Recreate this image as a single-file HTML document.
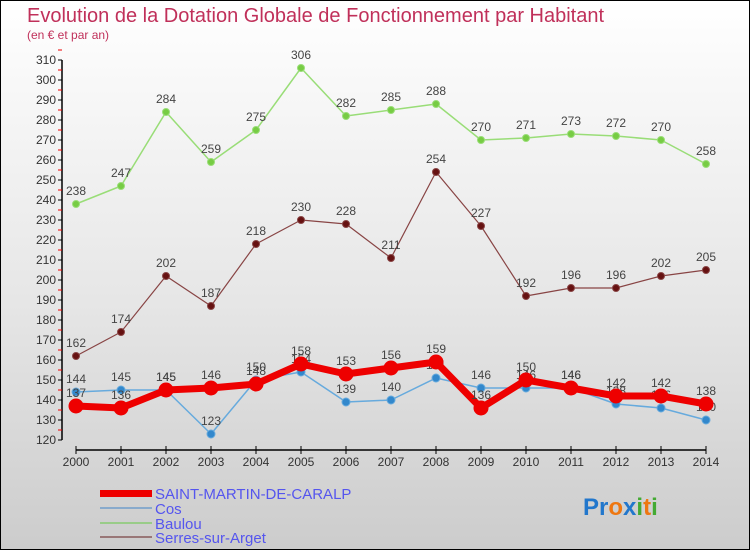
<!DOCTYPE html>
<html><head><meta charset="utf-8"><style>
html,body{margin:0;padding:0}
body{width:750px;height:550px;overflow:hidden;font-family:"Liberation Sans",sans-serif}
</style></head><body>
<svg id="c" width="750" height="550" xmlns="http://www.w3.org/2000/svg">
<defs><linearGradient id="bg" x1="0" y1="0" x2="0" y2="1"><stop offset="0" stop-color="#ffffff"/><stop offset="0.55" stop-color="#e6e6e6"/><stop offset="1" stop-color="#cccccc"/></linearGradient></defs>
<rect x="0" y="0" width="750" height="550" fill="url(#bg)"/>
<rect x="0.5" y="0.5" width="749" height="549" fill="none" stroke="#000"/>
<text x="27" y="22" font-size="20" fill="#c0305a">Evolution de la Dotation Globale de Fonctionnement par Habitant</text>
<text x="27" y="39" font-size="12" fill="#c0305a">(en € et par an)</text>
<g id="axes"></g><g id="series"></g>
<g>
<rect x="100" y="490" width="52" height="7" fill="#e00"/>
<text x="155" y="499" font-size="15" fill="#5555ee">SAINT-MARTIN-DE-CARALP</text>
<line x1="100" y1="508" x2="152" y2="508" stroke="#88aacc" stroke-width="2"/>
<text x="155" y="514" font-size="15" fill="#5555ee">Cos</text>
<line x1="100" y1="523" x2="152" y2="523" stroke="#99cc88" stroke-width="2"/>
<text x="155" y="529" font-size="15" fill="#5555ee">Baulou</text>
<line x1="100" y1="537" x2="152" y2="537" stroke="#997777" stroke-width="2"/>
<text x="155" y="543" font-size="15" fill="#5555ee">Serres-sur-Arget</text>
</g>
<text x="583" y="515" font-size="24" font-weight="bold"><tspan fill="#2277cc">Pr</tspan><tspan fill="#ee7711">o</tspan><tspan fill="#2277cc">x</tspan><tspan fill="#44aa33">i</tspan><tspan fill="#ee7711">t</tspan><tspan fill="#44aa33">i</tspan></text>
</svg>
<script>
const years=[2000,2001,2002,2003,2004,2005,2006,2007,2008,2009,2010,2011,2012,2013,2014];
const yTicks=[120,130,140,150,160,170,180,190,200,210,220,230,240,250,260,270,280,290,300,310];
const saintMartin=[137,136,145,146,148,158,153,156,159,136,150,146,142,142,138];
const cos=[144,145,145,123,150,154,139,140,151,146,146,146,138,136,130];
const baulou=[238,247,284,259,275,306,282,285,288,270,271,273,272,270,258];
const serres=[162,174,202,187,218,230,228,211,254,227,192,196,196,202,205];
const NS="http://www.w3.org/2000/svg";
function X(i){return 76+i*45;}
function Y(v){return 440-(v-120)*2;}
function mk(t,a,p){const e=document.createElementNS(NS,t);for(const k in a)e.setAttribute(k,a[k]);p.appendChild(e);return e;}
const ax=document.getElementById('axes');
let l=mk('line',{x1:62,y1:60,x2:62,y2:440,stroke:'#000','stroke-width':1.5},ax);


yTicks.forEach(v=>{
 const t=mk('line',{x1:58,y1:Y(v),x2:62,y2:Y(v),stroke:'#000'},ax);
 
 
 const m=mk('line',{x1:58,y1:Y(v)-10,x2:62,y2:Y(v)-10,stroke:'#e00'},ax);
 
 
 const tx=mk('text',{x:56,y:Y(v)+4,'font-size':12,fill:'#333','text-anchor':'end'},ax);
 tx.textContent=v;
 
 
});
l=mk('line',{x1:76,y1:450,x2:706,y2:450,stroke:'#000','stroke-width':1.5},ax);


years.forEach((yr,i)=>{
 const t=mk('line',{x1:X(i),y1:446,x2:X(i),y2:454,stroke:'#000'},ax);
 
 
 const tx=mk('text',{x:X(i),y:466,'font-size':12,fill:'#333','text-anchor':'middle'},ax);
 tx.textContent=yr;
 
 
});
const sg=document.getElementById('series');
function series(vals,name,color,lw,r,dot,above){
 const g=mk('g',{},sg);
 
 
 const pl=mk('polyline',{points:vals.map((v,i)=>X(i)+','+Y(v)).join(' '),fill:'none',stroke:color,'stroke-width':lw,'stroke-linejoin':'round'},g);
 
 
 vals.forEach((v,i)=>{
  const c=mk('circle',{cx:X(i),cy:Y(v),r:r,fill:dot,stroke:color,'stroke-width':1},g);
  
  
  const tx=mk('text',{x:X(i),y:Y(v)+(above?-9:17),'font-size':12,fill:'#444','text-anchor':'middle'},g);
  tx.textContent=v;
  
  
 });
}
series(baulou,'baulou','#99dd77',1.5,3.5,'#77cc44',true);
series(serres,'serres','#884444',1.2,3.5,'#661111',true);
series(cos,'cos','#66aadd',1.5,4,'#3388cc',true);
series(saintMartin,'saint-martin','#ee0000',7,7,'#ee0000',true);
</script>
</body></html>
